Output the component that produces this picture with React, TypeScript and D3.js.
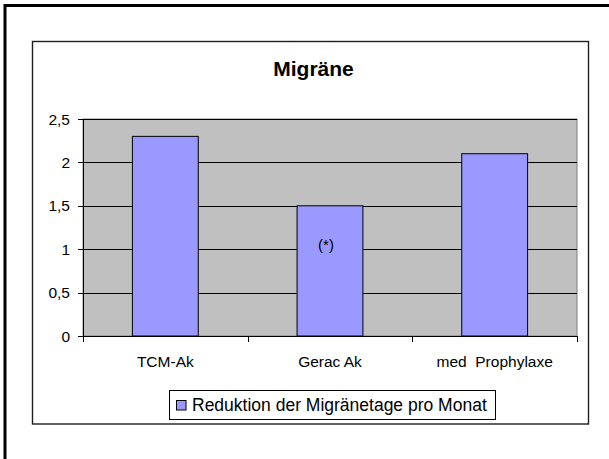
import React from "react";
import * as d3 from "d3";

const categories = ["TCM-Ak", "Gerac Ak", "med  Prophylaxe"];
const values = [2.3, 1.5, 2.1];
const yTicks = [0, 0.5, 1, 1.5, 2, 2.5];
const seriesName = "Reduktion der Migränetage pro Monat";
const title = "Migräne";
const annotation = "(*)";

const FONT = "Arial, 'Liberation Sans', sans-serif";

export default function App() {
  const left = 83;
  const right = 577;
  const top = 119;
  const bottom = 336;

  const x = d3
    .scaleBand<string>()
    .domain(categories)
    .range([left, right])
    .paddingInner(0.6)
    .paddingOuter(0.3);
  const y = d3.scaleLinear().domain([0, 2.5]).range([bottom, top]);
  const fmt = (v: number) => String(v).replace(".", ",");
  const step = (right - left) / categories.length;
  const boundaries = d3.range(categories.length + 1).map((i) => left + i * step);

  return (
    <svg
      width={609}
      height={459}
      style={{ position: "absolute", left: 0, top: 0, background: "#fff" }}
      fontFamily={FONT}
    >
      <rect x={0} y={0} width={609} height={459} fill="#fff" />
      {/* outer frame */}
      <rect x={5} y={5.5} width={612} height={470} fill="none" stroke="#000" strokeWidth={3} />
      {/* chart frame */}
      <rect x={32.5} y={41.5} width={556} height={382.5} fill="#fff" stroke="#1f1f1f" strokeWidth={1.4} />

      {/* title */}
      <text x={313.5} y={75.5} textAnchor="middle" fontSize={21} fontWeight="bold" fill="#000">
        {title}
      </text>

      {/* plot area */}
      <rect x={left} y={top} width={right - left} height={bottom - top} fill="#C0C0C0" stroke="#808080" strokeWidth={1} />
      {yTicks.slice(1).map((t) => (
        <line key={t} x1={left} x2={right} y1={Math.round(y(t)) + 0.5} y2={Math.round(y(t)) + 0.5} stroke="#000" strokeWidth={1} />
      ))}

      {/* bars */}
      {categories.map((c, i) => (
        <rect
          key={c}
          x={x(c)!}
          y={y(values[i])}
          width={x.bandwidth()}
          height={bottom - y(values[i])}
          fill="#9999FF"
          stroke="#000"
          strokeWidth={1}
        />
      ))}

      {/* annotation */}
      <text x={x(categories[1])! + x.bandwidth() / 2 - 4} y={250} textAnchor="middle" fontSize={15} fill="#000">
        {annotation}
      </text>

      {/* y axis */}
      <line x1={left + 0.5} x2={left + 0.5} y1={top} y2={bottom} stroke="#000" />
      {yTicks.map((t) => (
        <g key={t}>
          <line x1={left - 5} x2={left} y1={Math.round(y(t)) + 0.5} y2={Math.round(y(t)) + 0.5} stroke="#000" />
          <text x={70} y={y(t) + 5.5} textAnchor="end" fontSize={15.5} fill="#000">
            {fmt(t)}
          </text>
        </g>
      ))}

      {/* x axis */}
      <line x1={left} x2={right} y1={bottom + 0.5} y2={bottom + 0.5} stroke="#000" />
      {boundaries.map((b, i) => (
        <line key={i} x1={Math.round(b) + 0.5} x2={Math.round(b) + 0.5} y1={bottom} y2={bottom + 6} stroke="#000" />
      ))}
      {categories.map((c) => (
        <text key={c} x={x(c)! + x.bandwidth() / 2} y={367} textAnchor="middle" fontSize={15.5} fill="#000" style={{ whiteSpace: "pre" }} xmlSpace="preserve">
          {c}
        </text>
      ))}

      {/* legend */}
      <rect x={169.5} y={390.5} width={326} height={29} fill="#fff" stroke="#000" strokeWidth={1} />
      <rect x={176.5} y={400.5} width={9.5} height={9.5} fill="#9999FF" stroke="#000" strokeWidth={1} />
      <text x={192} y={411} fontSize={17.5} fill="#000">
        {seriesName}
      </text>
    </svg>
  );
}
